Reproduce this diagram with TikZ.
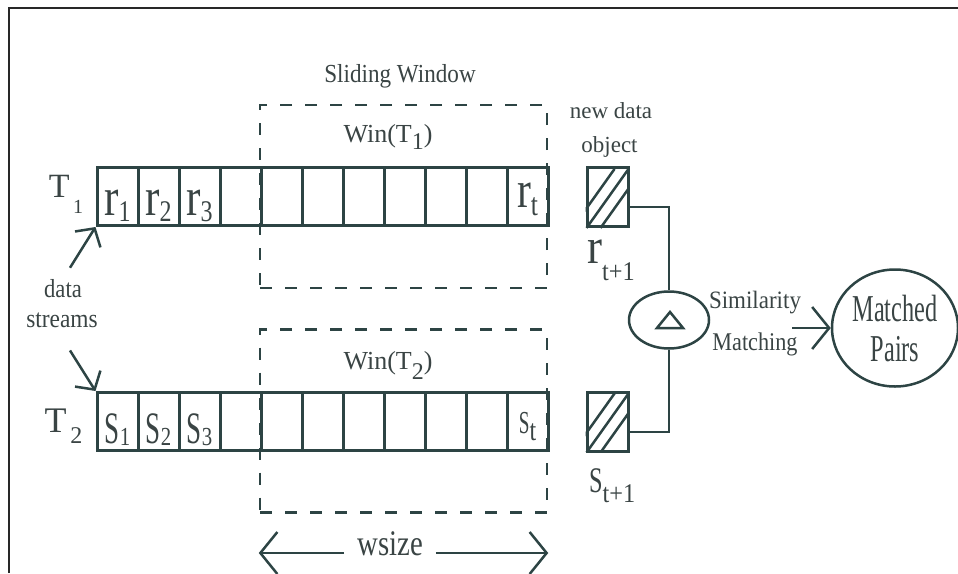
\documentclass[tikz,border=0pt]{standalone}
\usepackage{fontspec}
\setmainfont{Liberation Serif}
\usepackage{graphicx}
\usetikzlibrary{arrows.meta,shapes.geometric,positioning,calc}
\definecolor{lineclr}{RGB}{45,68,68}
\definecolor{txtclr}{RGB}{58,68,68}
\definecolor{frameclr}{RGB}{40,40,40}
\newcommand{\fs}[1]{\fontsize{#1}{#1}\selectfont}
\newcommand{\sx}[2]{\scalebox{#1}[1]{#2}}
\newcommand{\idx}[5]{{\fs{#1}#2}\raisebox{-#5pt}{\fs{#3}#4}}

\begin{document}
\begin{tikzpicture}[
        x=1pt, y=-1pt,
        every node/.style={inner sep=0pt, text=txtclr},
        lbl/.style={anchor=base},
        cell/.style={draw=lineclr, line width=3pt, minimum width=41pt, minimum height=58pt},
        celltxt/.style={text height=38pt, text depth=0pt},
        win/.style={draw=lineclr, line width=2.5pt, dash pattern=on 12pt off 13pt,
                    minimum width=287pt, minimum height=183pt},
        newbox/.style={draw=lineclr, line width=3pt, minimum width=41pt, minimum height=59pt},
        hatch/.style={draw=lineclr, line width=2.5pt},
        link/.style={draw=lineclr, line width=2pt},
        barb/.style={draw=lineclr, line width=2.5pt, -{Straight Barb[length=13pt,width=30pt]}},
        bigbarb/.style={draw=lineclr, line width=2.5pt, -{Straight Barb[length=17pt,width=42pt]}}
    ]
    \useasboundingbox (0,0) rectangle (958,573);
    \draw[frameclr, line width=2pt] (9,573) -- (9,8) -- (958,8);

    % windows
    \node[win] (win1) at (403.5,196.5) {};
    \node[win] (win2) at (403.5,421) {};
    \node[lbl] (slw) at (400,82) {\fs{26}\sx{.89}{Sliding Window}};
    \node[lbl] (w1) at (388,142) {\fs{26}Win(T\raisebox{-7pt}{\fs{24}1})};
    \node[lbl] (w2) at (388,369) {\fs{26}Win(T\raisebox{-10pt}{\fs{24}2})};

    % stream T1
    \foreach \i in {1,...,11}
        \node[cell] (r\i) at (76.5+41*\i,196.5) {};
    \foreach \i in {1,2,3}
        \node[celltxt] (rl\i) at (r\i) {\sx{.8}{\idx{54}{r}{30}{\i}{6}}};
    \node[celltxt] (rlt) at (r11) {\raisebox{8.5pt}{\sx{.8}{\idx{52}{r}{32}{t}{8}}}};
    \node[lbl] (t1) at (66,197) {\idx{34}{T}{20}{\,1}{16}};

    % stream T2
    \foreach \i in {1,...,11}
        \node[cell] (s\i) at (76.5+41*\i,421.5) {};
    \foreach \i in {1,2,3}
        \node[celltxt] (sl\i) at (s\i) {\raisebox{-2.5pt}{\sx{.8}{\idx{45}{\sx{.75}{S}}{26}{\i}{2}}}};
    \node[celltxt] (slt) at (s11) {\raisebox{7.5pt}{\sx{.8}{\idx{32}{\sx{.75}{S}}{30}{t}{7}}}};
    \node[lbl] (t2) at (63.5,432) {\idx{36}{T}{24}{\,2}{11}};

    % data streams
    \node[lbl] (dd) at (63,297) {\fs{26}\sx{.87}{data}};
    \node[lbl] (ds) at (62,327) {\fs{26}\sx{.9}{streams}};
    \draw[barb] ([xshift=7pt,yshift=11pt]dd.north) -- (r1.south west);
    \draw[barb] ([xshift=8pt,yshift=-23pt]ds.south) -- (s1.north west);

    % new data objects
    \node[newbox] (rnew) at (607.5,197) {};
    \node[newbox] (snew) at (607.5,421.5) {};
    \foreach \b in {rnew,snew}{
        \begin{scope}
            \clip (\b.south west) rectangle (\b.north east);
            \foreach \o in {-13,1,15}
                \draw[hatch] ($(\b.south west)+(\o,0)$) -- ++(42,-59);
        \end{scope}
    }
    \node[lbl] (nd1) at (611,118) {\fs{23}new data};
    \node[lbl] (nd2) at (609.5,152) {\fs{23}object};
    \node[lbl, anchor=base west] (rnl) at (587,263) {\sx{.9}{\idx{50}{r}{27}{t+1}{17}}};
    \node[lbl, anchor=base west] (snl) at (589,492) {\sx{.9}{\idx{36}{\sx{.75}{S}}{27}{t+1}{10}}};

    % similarity matching
    \node[ellipse, draw=lineclr, line width=2.5pt, minimum width=80pt, minimum height=57pt] (sim) at (669,320) {};
    \draw[lineclr, line width=2.5pt, line join=miter]
        ($(sim)+(-12,8)$) -- ($(sim)+(1,-8)$) -- ($(sim)+(14,8)$) -- cycle;
    \draw[link] ([yshift=-10pt]rnew.east) -| (sim.north);
    \draw[link] ([yshift=-10pt]snew.east) -| (sim.south);
    \node[lbl] (sm1) at (755,308) {\fs{25}\sx{.92}{Similarity}};
    \node[lbl] (sm2) at (755,350) {\fs{25.5}\sx{.87}{Matching}};

    \node[ellipse, draw=lineclr, line width=2.5pt, minimum width=126pt, minimum height=117pt,
          align=center, font=\fontsize{38}{40}\selectfont] (mp) at (895,328)
          {\sx{.64}{Matched}\\\sx{.64}{Pairs}};
    \coordinate (mstart) at (792,328);
    \draw[bigbarb] (mstart) -- (mp.west);

    % window size
    \node[text height=4pt, text depth=0pt, inner xsep=13pt] (ws) at (390,553) {\fs{36}\sx{.8}{wsize}};
    \draw[bigbarb] (ws.west) -- (ws -| win2.west);
    \draw[bigbarb] (ws.east) -- (ws -| win2.east);
\end{tikzpicture}
\end{document}
